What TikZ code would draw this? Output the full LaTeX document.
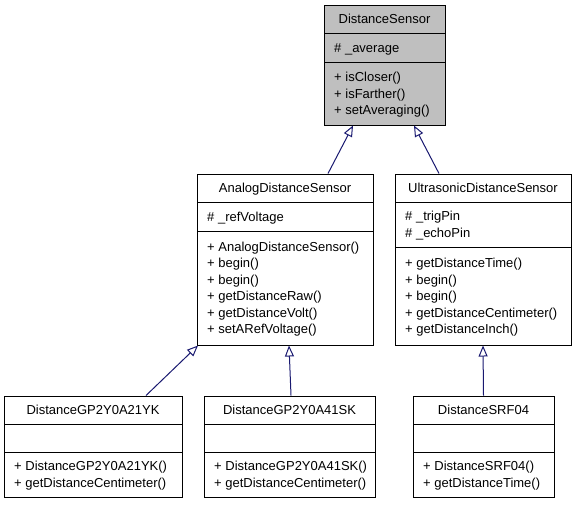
\documentclass[tikz,border=0pt]{standalone}
\usepackage{fontspec}
\setmainfont{Liberation Sans}
\usetikzlibrary{arrows.meta}
\definecolor{dsgray}{HTML}{BFBFBF}
\definecolor{inhblue}{HTML}{191970}
\newcommand\classrect[6]{%
  \node[cls, fill=#6, minimum width={#4-#2}, minimum height={#5-#3}] (#1) at ({(#2+#4)/2},{(#3+#5)/2}) {};}
\newcommand\sepat[3]{\draw[sepline] (#1,#3) -- (#2,#3);}
\newcommand\mlines[6]{%
  \pgfmathsetmacro\fb{#3+(#4-(#5-1)*16.5)/2+4.5}%
  \foreach \t [count=\i from 0] in {#6} {%
    \pgfmathsetmacro\yy{\fb+16.5*\i}%
    \node[mem] (#1-\i) at (#2+10,\yy) {\t};}}
\begin{document}
\begin{tikzpicture}[x=1pt,y=-1pt,
  cls/.style={draw=black, line width=1pt, inner sep=0pt, fill=white},
  sepline/.style={draw=black, line width=1pt},
  ttl/.style={anchor=base, inner sep=0pt, font=\fontsize{13}{15}\selectfont},
  mem/.style={anchor=base west, inner sep=0pt, font=\fontsize{13}{15}\selectfont},
  inh/.style={draw=inhblue, line width=1pt, -{Triangle[open, length=11pt, width=9pt, line width=1pt]}}]
\useasboundingbox (0,0) rectangle (577,504);

% DistanceSensor
\classrect{ds}{324}{5}{445}{125}{dsgray}
\sepat{324}{445}{33}\sepat{324}{445}{62}
\node[ttl] (ds-title) at (384.5,23.5) {DistanceSensor};
\mlines{dsa}{324}{33}{29}{1}{\# \_average}
\mlines{dsm}{324}{62}{63}{3}{+ isCloser(), + isFarther(), + setAveraging()}

% AnalogDistanceSensor
\classrect{ads}{197}{174}{373}{345}{white}
\sepat{197}{373}{202}\sepat{197}{373}{231}
\node[ttl] (ads-title) at (285,192.5) {AnalogDistanceSensor};
\mlines{adsa}{197}{202}{29}{1}{\# \_refVoltage}
\mlines{adsm}{197}{231}{114}{6}{+ AnalogDistanceSensor(), + begin(), + begin(), + getDistanceRaw(), + getDistanceVolt(), + setARefVoltage()}

% UltrasonicDistanceSensor
\classrect{uds}{395}{174}{571}{345}{white}
\sepat{395}{571}{202}\sepat{395}{571}{247}
\node[ttl] (uds-title) at (483,192.5) {UltrasonicDistanceSensor};
\mlines{udsa}{395}{202}{45}{2}{\# \_trigPin, \# \_echoPin}
\mlines{udsm}{395}{247}{98}{5}{+ getDistanceTime(), + begin(), + begin(), + getDistanceCentimeter(), + getDistanceInch()}

% DistanceGP2Y0A21YK
\classrect{g21}{4}{396}{182}{497}{white}
\sepat{4}{182}{424}\sepat{4}{182}{452}
\node[ttl] (g21-title) at (93,414.5) {DistanceGP2Y0A21YK};
\mlines{g21m}{4}{452}{45}{2}{+ DistanceGP2Y0A21YK(), + getDistanceCentimeter()}

% DistanceGP2Y0A41SK
\classrect{g41}{204}{396}{375}{497}{white}
\sepat{204}{375}{424}\sepat{204}{375}{452}
\node[ttl] (g41-title) at (289.5,414.5) {DistanceGP2Y0A41SK};
\mlines{g41m}{204}{452}{45}{2}{+ DistanceGP2Y0A41SK(), + getDistanceCentimeter()}

% DistanceSRF04
\classrect{srf}{413}{396}{554}{497}{white}
\sepat{413}{554}{424}\sepat{413}{554}{452}
\node[ttl] (srf-title) at (483.5,414.5) {DistanceSRF04};
\mlines{srfm}{413}{452}{45}{2}{+ DistanceSRF04(), + getDistanceTime()}

% inheritance
\draw[inh] ([xshift=43pt]ads.north) -- ([xshift=-31.5pt]ds.south);
\draw[inh] ([xshift=-44pt]uds.north) -- ([xshift=29.5pt]ds.south);
\draw[inh] ([xshift=53pt]g21.north) -- ([xshift=-87pt]ads.south);
\draw[inh] ([xshift=1.5pt]g41.north) -- ([xshift=4pt]ads.south);
\draw[inh] (srf.north) -- (uds.south);
\end{tikzpicture}
\end{document}
